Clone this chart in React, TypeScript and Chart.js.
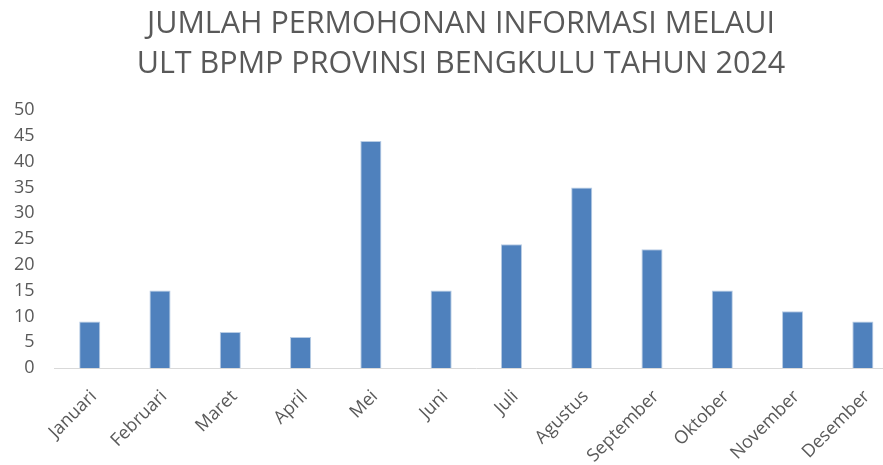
import React, { useEffect, useRef } from "react";
import { Chart, registerables } from "chart.js";

Chart.register(...registerables);

const titleLines = ["JUMLAH PERMOHONAN INFORMASI MELAUI", "ULT BPMP PROVINSI BENGKULU TAHUN 2024"];
const months = ["Januari", "Februari", "Maret", "April", "Mei", "Juni", "Juli", "Agustus", "September", "Oktober", "November", "Desember"];
const requests = [9, 15, 7, 6, 44, 15, 24, 35, 23, 15, 11, 9];
const yMin = 0;
const yMax = 50;
const yStep = 5;

const CANVAS_SHIFT = 6;

const titlePlugin = {
  id: "centeredTitle",
  afterDraw(chart: any) {
    const ctx = chart.ctx;
    ctx.save();
    ctx.fillStyle = "#595959";
    ctx.font = "30.5px 'Open Sans', sans-serif";
    ctx.textAlign = "center";
    ctx.textBaseline = "alphabetic";
    const cx = 461 + CANVAS_SHIFT;
    ctx.fillText(titleLines[0], cx, 33);
    ctx.fillText(titleLines[1], cx, 73);
    ctx.restore();
  },
};

export default function App() {
  const ref = useRef<HTMLCanvasElement>(null);
  useEffect(() => {
    if (!ref.current) return;
    const chart = new Chart(ref.current, {
      type: "bar",
      data: {
        labels: months,
        datasets: [
          {
            data: requests,
            backgroundColor: "#4F81BD",
            borderColor: "#B8CCE4",
            borderWidth: { top: 1, left: 1, right: 1, bottom: 0 },
            barPercentage: 0.3,
            categoryPercentage: 1,
          },
        ],
      },
      plugins: [titlePlugin],
      options: {
        animation: false,
        responsive: true,
        maintainAspectRatio: false,
        layout: { padding: { left: 0, right: 0, top: 110, bottom: 0 } },
        plugins: {
          legend: { display: false },
          tooltip: { enabled: false },
          title: { display: false },
        },
        scales: {
          x: {
            grid: { display: false, drawTicks: false },
            border: { display: true, color: "#D9D9D9", width: 1 },
            afterFit(scale: any) {
              scale.height = 97;
            },
            ticks: {
              color: "#595959",
              font: { family: "'Open Sans', sans-serif", size: 18 },
              maxRotation: 45,
              minRotation: 45,
              autoSkip: false,
              padding: 18,
              labelOffset: 4,
            },
          },
          y: {
            min: yMin,
            max: yMax,
            grid: { display: false, drawTicks: false },
            border: { display: false },
            ticks: {
              stepSize: yStep,
              color: "#595959",
              font: { family: "'Open Sans', sans-serif", size: 18 },
              padding: 20,
            },
          },
        },
      },
    });
    return () => chart.destroy();
  }, []);
  return (
    <div style={{ position: "fixed", left: 0, top: 0, width: 883, height: 465, overflow: "hidden", background: "#fff" }}>
      <div style={{ position: "absolute", left: -CANVAS_SHIFT, top: 0, width: 898 + CANVAS_SHIFT, height: 465 }}>
        <canvas ref={ref} />
      </div>
    </div>
  );
}
